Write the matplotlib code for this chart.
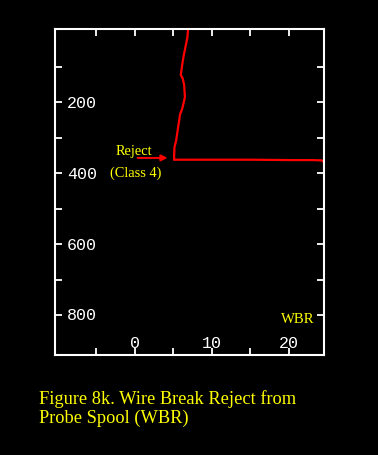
import matplotlib
matplotlib.use("Agg")
import matplotlib.pyplot as plt

# wire break reject trace (WBR vs depth)
depth = [-6, 16, 44, 72, 95, 123, 133, 151, 185, 195, 219, 233, 270, 308, 327, 351, 362,
         362, 362, 363, 363, 364, 366]
wbr = [6.9, 6.83, 6.57, 6.31, 6.14, 5.96, 6.22, 6.4, 6.5, 6.4, 6.14, 5.88, 5.62, 5.36, 5.14, 5.1, 5.1,
       10.0, 15.0, 20.0, 23.0, 24.3, 24.4]

# reject marker arrow
arrow_x = [0.0, 4.6]
arrow_depth = 357

xticks = [-5, 0, 5, 10, 15, 20]
xlabels = [0, 10, 20]
yticks = [100, 200, 300, 400, 500, 600, 700, 800]
ylabels = [200, 400, 600, 800]

fig = plt.figure(figsize=(3.78, 4.56), dpi=100, facecolor="black")
ax = fig.add_axes([0.1468, 0.2193, 0.7113, 0.7143], facecolor="black")

ax.plot(wbr, depth, color="red", lw=1.6, solid_joinstyle="miter")
ax.annotate("", xy=(arrow_x[1], arrow_depth), xytext=(arrow_x[0], arrow_depth),
            arrowprops=dict(arrowstyle="-|>", color="red", lw=1.4, mutation_scale=9))

ax.set_xlim(-10.3, 24.6)
ax.set_ylim(913, -6)

for s in ax.spines.values():
    s.set_color("white")
    s.set_linewidth(1.5)

ax.set_xticks(xticks)
ax.set_yticks(yticks)
ax.tick_params(direction="in", length=5, width=1.3, color="white",
               top=True, right=True, labelbottom=False, labelleft=False)

mono = "Liberation Mono"
for v in ylabels:
    ax.text(0.043, v, str(v), transform=ax.get_yaxis_transform(), color="white",
            family=mono, fontsize=12, ha="left", va="center")
for v in xlabels:
    ax.text(v, 0.037, str(v), transform=ax.get_xaxis_transform(), color="white",
            family=mono, fontsize=12, ha="center", va="center")

serif = "Liberation Serif"
ax.text(-0.16, 336, "Reject", color="yellow", family=serif, fontsize=10.4, ha="center", va="center")
ax.text(0.17, 396, "(Class 4)", color="yellow", family=serif, fontsize=10.4, ha="center", va="center")
ax.text(21.1, 809, "WBR", color="yellow", family=serif, fontsize=10.6, ha="center", va="center")

fig.text(0.103, 0.125, "Figure 8k. Wire Break Reject from", color="yellow", family=serif,
         fontsize=13.2, ha="left", va="center")
fig.text(0.103, 0.083, "Probe Spool (WBR)", color="yellow", family=serif,
         fontsize=13.2, ha="left", va="center")

fig.savefig("out.png", dpi=100, facecolor="black")
